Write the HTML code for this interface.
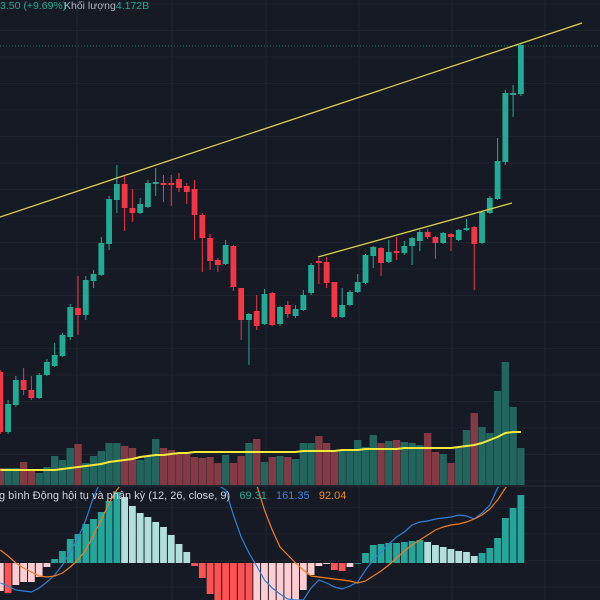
<!DOCTYPE html>
<html><head><meta charset="utf-8"><style>
html,body{margin:0;padding:0;background:#161a25;width:600px;height:600px;overflow:hidden;}
#wrap{position:relative;width:600px;height:600px;overflow:hidden;background:#161a25;font-family:"Liberation Sans","Noto Sans CJK SC",sans-serif;}
svg{position:absolute;left:0;top:0;}
.t{position:absolute;font-size:11px;white-space:nowrap;line-height:12px;}
</style></head><body>
<div id="wrap">
<svg id="chart" width="600" height="600"></svg>
<div class="t" style="left:0;top:0;color:#22ab94;font-size:10.5px">3.50 (+9.69%)</div>
<div class="t" style="left:64px;top:0;color:#b2b5be;font-size:10.5px">Khối lượng<span style="color:#22ab94">4.172B</span></div>
<div class="t" style="left:-1px;top:490px;color:#d1d4dc;font-size:11px">g bình Động hội tụ và phân kỳ (12, 26, close, 9)&nbsp;&nbsp;&nbsp;<span style="color:#22ab94">69.31</span>&nbsp;&nbsp;&nbsp;<span style="color:#3d7fd9">161.35</span>&nbsp;&nbsp;&nbsp;<span style="color:#f08a24">92.04</span></div>
</div>
<script>
const opens=[108,48,75,100,90,82,105,114,124,143,172,165,199,205,236,280,296,272,267,273,296,297,297,301,294,291,265,242,220,216,234,192,160,169,156,187,156,175,164,170,187,219,218,198,163,175,188,197,224,232,218,229,227,234,239,248,243,237,246,240,250,253,237,267,281,318,385,386];
const highs=[110,80,104,112,104,107,121,137,147,176,204,204,210,243,284,315,304,291,282,300,312,305,305,307,297,300,267,246,222,240,235,192,167,185,191,188,174,179,175,190,217,222,223,198,192,190,206,226,234,233,240,243,239,243,250,251,244,248,247,251,261,254,269,284,342,390,395,436];
const lows=[46,46,73,85,80,81,104,113,123,140,145,160,192,204,230,267,249,258,266,272,284,278,274,288,276,240,208,210,208,215,189,140,115,150,155,154,154,162,162,169,185,196,192,162,162,174,187,196,212,204,217,220,225,215,229,241,221,236,229,239,249,190,236,266,280,315,363,384];
const closes=[48,76,100,90,82,105,118,125,145,173,165,200,206,237,281,296,272,267,276,297,298,295,295,292,288,265,242,219,215,235,193,160,166,154,186,155,173,166,171,185,215,217,197,163,175,188,198,225,233,217,228,227,234,242,248,243,237,247,243,250,252,236,268,282,319,387,387,435];
const volumes=[17,17,17,23,16,12,18,29,25,37,41,22,29,34,42,42,39,37,25,29,46,37,35,32,32,28,27,28,22,30,22,29,42,46,23,28,29,28,26,42,42,49,42,33,35,34,45,38,50,42,44,45,43,42,40,52,33,31,22,37,55,72,58,52,94,123,78,37];
const volMA=[15,15,15,15,15,15,15,15,16,17,18,19,20,21,23,24,25,26,28,29,30,30,31,32,32,33,33,33,33,33,33,33,33,33,33,33,33,33,33,34,34,34,34,34,35,35,35,36,36,36,36,36,37,37,37,37,37,37,37,38,39,40,42,45,48,52,53,53];
const hist=[-28,-30,-22,-19,-19,-14,-4,4,12,24,29,39,44,51,62,71,66,57,50,46,41,36,28,19,11,-3,-15,-31,-40,-50,-60,-65,-68,-65,-62,-58,-52,-46,-38,-27,-12,-3,-1,-7,-8,-4,0,10,18,19,20,20,21,22,23,21,18,16,14,12,11,7,10,15,25,45,55,68];
const macdLine=[-20,-23,-27,-28,-29,-25,-19,-12,-2,11,25,43,66,83,103,125,135,140,140,135,125,115,105,95,87,80,93,85,78,73,48,26,10,-3,-17,-25,-31,-36,-40,-37,-25,-17,-20,-24,-26,-23,-19,-7,3,11,19,26,31,38,41,42,44,45,46,48,47,44,50,58,75,98,123,143];
const signalLine=[13,7,0,-5,-9,-13,-14,-13,-10,-4,3,13,28,43,60,73,85,100,110,115,118,117,114,110,105,100,96,93,90,88,86,84,82,78,53,33,16,8,0,-7,-13,-14,-15,-16,-17,-18,-20,-18,-13,-8,-2,5,12,18,23,28,33,36,38,39,41,44,48,54,63,75,88,98];

const svg=document.getElementById('chart');
const NS='http://www.w3.org/2000/svg';
function mk(tag,attrs,parent){const e=document.createElementNS(NS,tag);for(const k in attrs)e.setAttribute(k,attrs[k]);(parent||svg).appendChild(e);return e;}
const xScale=i=>0.3+7.77*i;
const yPrice=p=>480-p;
const yVol=v=>485-v;
const yMacd=h=>563-h;

const grid=mk('g',{});


[77,172,266,359,452,545].forEach(x=>mk('line',{x1:x,y1:0,x2:x,y2:600,stroke:'#222633','stroke-width':1},grid));
for(let y=4;y<600;y+=26.5){mk('line',{x1:0,y1:y,x2:600,y2:y,stroke:'#1f2330','stroke-width':1},grid);}
const sep=mk('line',{x1:0,y1:486,x2:600,y2:486,stroke:'#2a2e39','stroke-width':1});


const pl=mk('line',{x1:0,y1:46,x2:600,y2:46,stroke:'#22ab94','stroke-width':1,'stroke-dasharray':'1 2',opacity:0.6});



const defs=mk('defs',{});
const cp=mk('clipPath',{id:'macdClip'},defs);mk('rect',{x:0,y:487,width:600,height:113},cp);
const cp2=mk('clipPath',{id:'mainClip'},defs);mk('rect',{x:0,y:0,width:600,height:486},cp2);

const vg=mk('g',{'clip-path':'url(#mainClip)'});


volumes.forEach((v,i)=>{
  const up=closes[i]>=opens[i];
  const r=mk('rect',{x:xScale(i)-3.7,y:yVol(v),width:7.4,height:v,fill:up?'#22655d':'#833a45'},vg);
  
  
});
const vma=mk('polyline',{points:volMA.map((v,i)=>xScale(i)+','+yVol(v)).join(' '),fill:'none',stroke:'#f3ea3c','stroke-width':2});



const cg=mk('g',{});


opens.forEach((o,i)=>{
  const c=closes[i],up=c>=o,col=up?'#22ab94':'#f23645',x=xScale(i);
  const w=mk('line',{x1:x,x2:x,y1:yPrice(highs[i]),y2:yPrice(lows[i]),stroke:col,'stroke-width':1},cg);
  
  
  const top=yPrice(Math.max(o,c)),h=Math.max(1.5,Math.abs(o-c));
  const b=mk('rect',{x:x-2.9,y:top,width:5.8,height:h,fill:col},cg);
  
  
});

const t1=mk('line',{x1:0,y1:217,x2:582,y2:23,stroke:'#d8d14a','stroke-width':1.3});


const t2=mk('line',{x1:318,y1:257,x2:512,y2:203,stroke:'#d8d14a','stroke-width':1.3});



const mg=mk('g',{'clip-path':'url(#macdClip)'});


hist.forEach((h,i)=>{
  const prev=i>0?hist[i-1]:h;
  let col;
  if(h>=0)col=h>=prev?'#26a69a':'#b2dfdb';else col=h<prev?'#ff5252':'#ffcdd2';
  const y0=h>=0?yMacd(h):563;
  const y1=h>=0?563:Math.min(600,yMacd(h));
  const r=mk('rect',{x:xScale(i)-3.4,y:y0,width:6.8,height:Math.max(0.8,y1-y0),fill:col},mg);
  
  
});
const ml=mk('polyline',{points:macdLine.map((v,i)=>xScale(i)+','+Math.max(480,Math.min(600,yMacd(v)))).join(' '),fill:'none',stroke:'#2f7fd6','stroke-width':1.2},mg);


const sl=mk('polyline',{points:signalLine.map((v,i)=>xScale(i)+','+Math.max(480,Math.min(600,yMacd(v)))).join(' '),fill:'none',stroke:'#f07d1e','stroke-width':1.2},mg);


</script>
</body></html>
